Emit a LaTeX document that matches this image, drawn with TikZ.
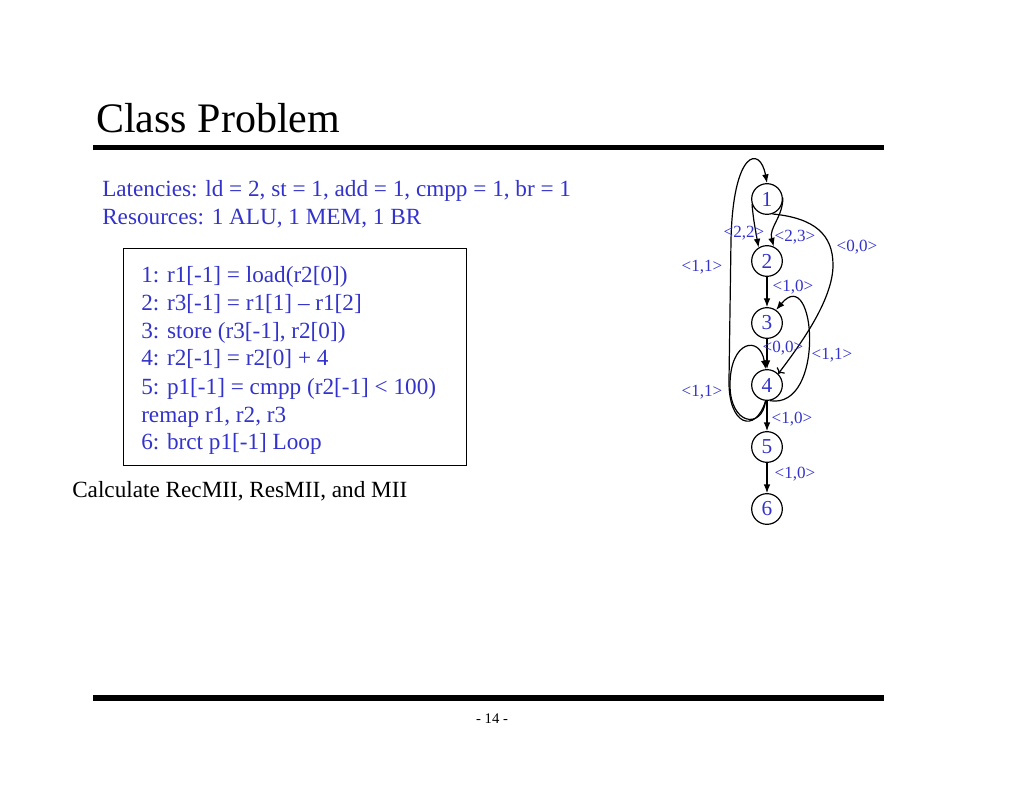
\documentclass[tikz,border=0pt]{standalone}
\usepackage{fontspec}
\setmainfont{Liberation Serif}
\usetikzlibrary{calc,arrows.meta}

\definecolor{slideblue}{RGB}{51,51,204}

\begin{document}
\begin{tikzpicture}[x=0.75pt,y=-0.75pt,
nd/.style={circle, draw, line width=0.9pt, minimum size=23pt, inner sep=0, text=slideblue, font=\fontsize{16}{16}\selectfont},
lab/.style={text=slideblue, font=\fontsize{12.8}{13}\selectfont, inner sep=0},
txt/.style={anchor=base west, inner sep=0, text=slideblue, font=\fontsize{17.4}{21}\selectfont},
arr/.style={-{Latex[length=6.5pt,width=5pt]}, line width=0.9pt}]
	\useasboundingbox (0,0) rectangle (1024,791);
	% title and rules
	\node[anchor=base west, inner sep=0, font=\fontsize{31.5}{32}\selectfont] (title) at (96,133) {Class Problem};
	\coordinate (tl) at (93,147.5);
	\coordinate (tr) at (884,147.5);
	\draw[line width=3.8pt] (tl) -- (tr);
	\coordinate (bl) at (93,698);
	\coordinate (br) at (884,698);
	\draw[line width=4pt] (bl) -- (br);
	\node[inner sep=0, font=\fontsize{11}{11}\selectfont] (page) at (492,719) {- 14 -};
	% header text
	\node[txt] (lat) at (102,197) {Latencies: ld = 2, st = 1, add = 1, cmpp = 1, br = 1};
	\node[txt] (res) at (102,225) {Resources: 1 ALU, 1 MEM, 1 BR};
	% code box
	\node[draw, line width=1pt, anchor=north west, minimum width=257.25pt, minimum height=162.75pt, inner sep=0] (box) at (123,248) {};
	\node[txt] (c1) at (141,283) {1: r1[-1] = load(r2[0])};
	\node[txt] (c2) at (141,311) {2: r3[-1] = r1[1] \textendash{} r1[2]};
	\node[txt] (c3) at (141,339) {3: store (r3[-1], r2[0])};
	\node[txt] (c4) at (141,366) {4: r2[-1] = r2[0] + 4};
	\node[txt] (c5) at (141,394) {5: p1[-1] = cmpp (r2[-1] < 100)};
	\node[txt] (c6) at (141,422) {remap r1, r2, r3};
	\node[txt] (c7) at (141,449) {6: brct p1[-1] Loop};
	\node[txt, text=black] (calc) at (72,497) {Calculate RecMII, ResMII, and MII};
	% dependence graph
	\node[nd] (n1) at (767,199) {1};
	\node[nd] (n2) at (767,261) {2};
	\node[nd] (n3) at (767,323) {3};
	\node[nd] (n4) at (767,385) {4};
	\node[nd] (n5) at (767,447) {5};
	\node[nd] (n6) at (767,509) {6};
	\draw[arr] (n1.200) to[out=-85,in=100] (n2.122);
	\draw[arr] (n1.5) to[out=-90,in=105] (n2.65);
	\draw[arr] (n2) -- (n3);
	\draw[arr] (n3) -- (n4);
	\draw[arr] (n4) -- (n5);
	\draw[arr] (n5) -- (n6);
	\draw[->, line width=0.9pt] (n1.-70) .. controls (815,218) and (833,235) .. (833,265) .. controls (833,300) and (800,345) .. (n4.45);
	\draw[arr] (n4.-80) .. controls (826,410) and (816,262) .. (n3.55);
	\draw[arr] (n4.-95) .. controls (762,430) and (730,425) .. (730,385) .. controls (730,340) and (760,335) .. (n4.95);
	\draw[arr] (n4.-95) .. controls (755,435) and (728,425) .. (729,380) -- (731,240) .. controls (733,150) and (760,145) .. (n1.north);
	% labels
	\node[lab] (l22) at (744,233) {<2,2>};
	\node[lab] (l23) at (795,237) {<2,3>};
	\node[lab] (l00a) at (857,247) {<0,0>};
	\node[lab] (l11a) at (702,267) {<1,1>};
	\node[lab] (l10a) at (793,287) {<1,0>};
	\node[lab] (l00b) at (783,348) {<0,0>};
	\node[lab] (l11b) at (832,355) {<1,1>};
	\node[lab] (l11c) at (702,392) {<1,1>};
	\node[lab] (l10b) at (792,419) {<1,0>};
	\node[lab] (l10c) at (795,474) {<1,0>};
\end{tikzpicture}
\end{document}
